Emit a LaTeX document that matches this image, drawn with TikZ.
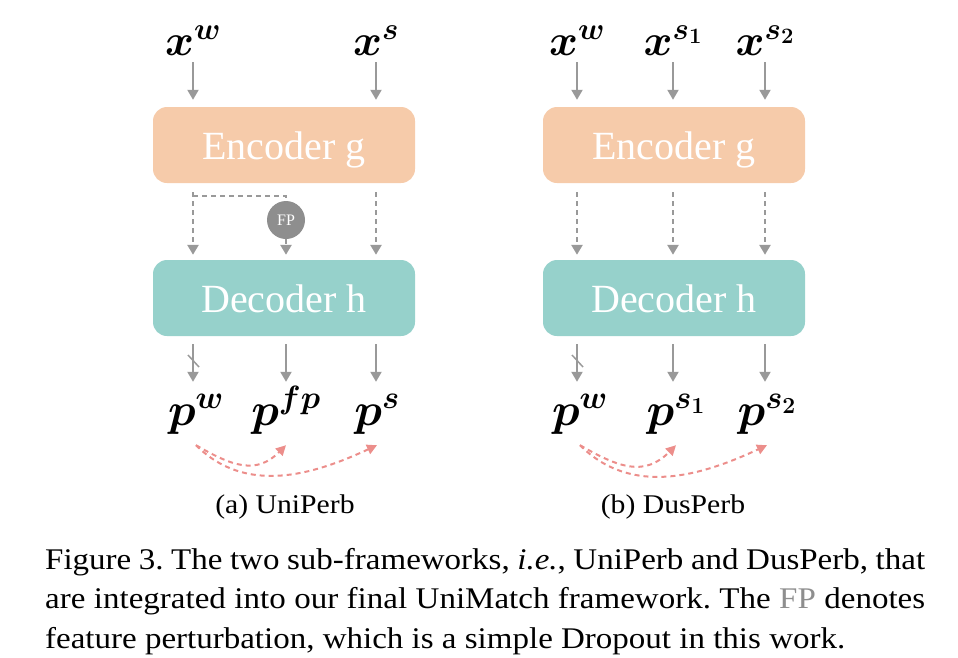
\RequirePackage{fix-cm}
\documentclass[tikz,border=0pt]{standalone}
\usepackage{bm}
\usepackage{fontspec}
\setmainfont{Liberation Serif}
\newfontfamily\capfont[FakeStretch=1.1]{Liberation Serif}
\usetikzlibrary{arrows.meta}

\definecolor{encfill}{HTML}{F6CBAA}
\definecolor{decfill}{HTML}{96D1CB}
\definecolor{arrgray}{HTML}{999999}
\definecolor{fpgray}{HTML}{8E8E8E}
\definecolor{lossred}{HTML}{EC8E8B}

\tikzset{
  blk/.style={rounded corners=14pt, minimum width=262pt, minimum height=76pt,
    text height=28pt, text depth=0pt, text=white, font=\fontsize{40}{44}\selectfont},
  inp/.style={inner sep=0pt, text height=32pt, text depth=7pt, anchor=base,
    font=\fontsize{44}{48}\selectfont},
  outp/.style={inner sep=0pt, text height=43pt, text depth=20pt, anchor=base,
    font=\fontsize{46}{50}\selectfont},
  arr/.style={arrgray, line width=2pt, -{Triangle[length=10pt,width=11pt]}},
  dline/.style={line width=2.5pt, dash pattern=on 5pt off 4pt},
  fpnode/.style={circle, fill=fpgray, minimum size=38pt, inner sep=0pt,
    text=white, font=\fontsize{16}{18}\selectfont},
  loss/.style={lossred, line width=2pt, dash pattern=on 5pt off 4pt,
    -{Triangle[length=10pt,width=10pt]}},
  subcap/.style={anchor=base, font=\capfont\fontsize{27}{31}\selectfont}
}

\begin{document}
\begin{tikzpicture}[x=1pt,y=1pt]
	\useasboundingbox (0,0) rectangle (958,-657);
	
	% (a) UniPerb
	\node[inp] (xw) at (193,-55) {$\bm{x}^{\bm{w}}$};
	\node[inp] (xs) at (376,-55) {$\bm{x}^{\bm{s}}$};
	\node[blk, fill=encfill] (enc) at (284,-145) {Encoder g};
	\node[blk, fill=decfill] (dec) at (284,-298) {Decoder h};
	\node[fpnode] (fp) at (286,-220) {FP};
	\node[outp] (pw) at (196,-425) {$\bm{p}^{\bm{w}}$};
	\node[outp] (pfp) at (286,-425) {$\bm{p}^{\bm{fp}}$};
	\node[outp] (ps) at (377,-425) {$\bm{p}^{\bm{s}}$};
	\node[subcap] (capa) at (285,-513) {(a) UniPerb};
	
	\foreach \n in {xw,xs} {
		\draw[arr, shorten >=7pt] (\n) -- (\n |- enc.north);
		\draw[arr, dline, shorten <=9pt, shorten >=5pt] (enc.south -| \n) -- (dec.north -| \n);
	}
	\draw[arrgray, dline] ([yshift=-13pt]enc.south -| xw) -| (fp.north);
	\draw[arr, dline, shorten >=5pt] (fp.south) -- (fp.south |- dec.north);
	\draw[arr, shorten <=8pt] (dec.south -| xw) -- (xw |- pw.north);
	\draw[arr, shorten <=8pt] (dec.south -| fp) -- (fp |- pfp.north);
	\draw[arr, shorten <=8pt] (dec.south -| xs) -- (xs |- ps.north);
	\draw[arrgray, line width=1.5pt] (188,-355) -- (199,-367);
	
	\draw[loss] (pw.south) to[out=-30,in=-135,looseness=1.2] (pfp.south);
	\draw[loss] (pw.south) to[out=-45,in=-155] (ps.south);
	
	% (b) DusPerb
	\node[inp] (xw2) at (577,-55) {$\bm{x}^{\bm{w}}$};
	\node[inp] (xsa) at (673,-55) {$\bm{x}^{\bm{s_1}}$};
	\node[inp] (xsb) at (765,-55) {$\bm{x}^{\bm{s_2}}$};
	\node[blk, fill=encfill] (enc2) at (674,-145) {Encoder g};
	\node[blk, fill=decfill] (dec2) at (674,-298) {Decoder h};
	\node[outp] (pw2) at (580,-425) {$\bm{p}^{\bm{w}}$};
	\node[outp] (psa) at (676,-425) {$\bm{p}^{\bm{s_1}}$};
	\node[outp] (psb) at (767,-425) {$\bm{p}^{\bm{s_2}}$};
	\node[subcap] (capb) at (673,-513) {(b) DusPerb};
	
	\foreach \n/\m in {xw2/pw2,xsa/psa,xsb/psb} {
		\draw[arr, shorten >=7pt] (\n) -- (\n |- enc2.north);
		\draw[arr, dline, shorten <=9pt, shorten >=5pt] (enc2.south -| \n) -- (dec2.north -| \n);
		\draw[arr, shorten <=8pt] (dec2.south -| \n) -- (\n |- \m.north);
	}
	\draw[arrgray, line width=1.5pt] (572,-355) -- (583,-367);
	
	\draw[loss] (pw2.south) to[out=-30,in=-135,looseness=1.2] (psa.south);
	\draw[loss] (pw2.south) to[out=-45,in=-155] (psb.south);
	
	% Bildunterschrift
	\node[anchor=north west, inner sep=0pt, text width=880pt, align=justify,
	  font=\capfont\fontsize{30}{39.5}\selectfont\frenchspacing] (cap) at (45,-548)
	  {Figure 3. The two sub-frameworks, \textit{i.e.}, UniPerb and DusPerb, that\linebreak
	   are integrated into our final UniMatch framework. The \textcolor{fpgray}{FP} denotes\linebreak
	   feature perturbation, which is a simple Dropout in this work.};
\end{tikzpicture}
\end{document}
